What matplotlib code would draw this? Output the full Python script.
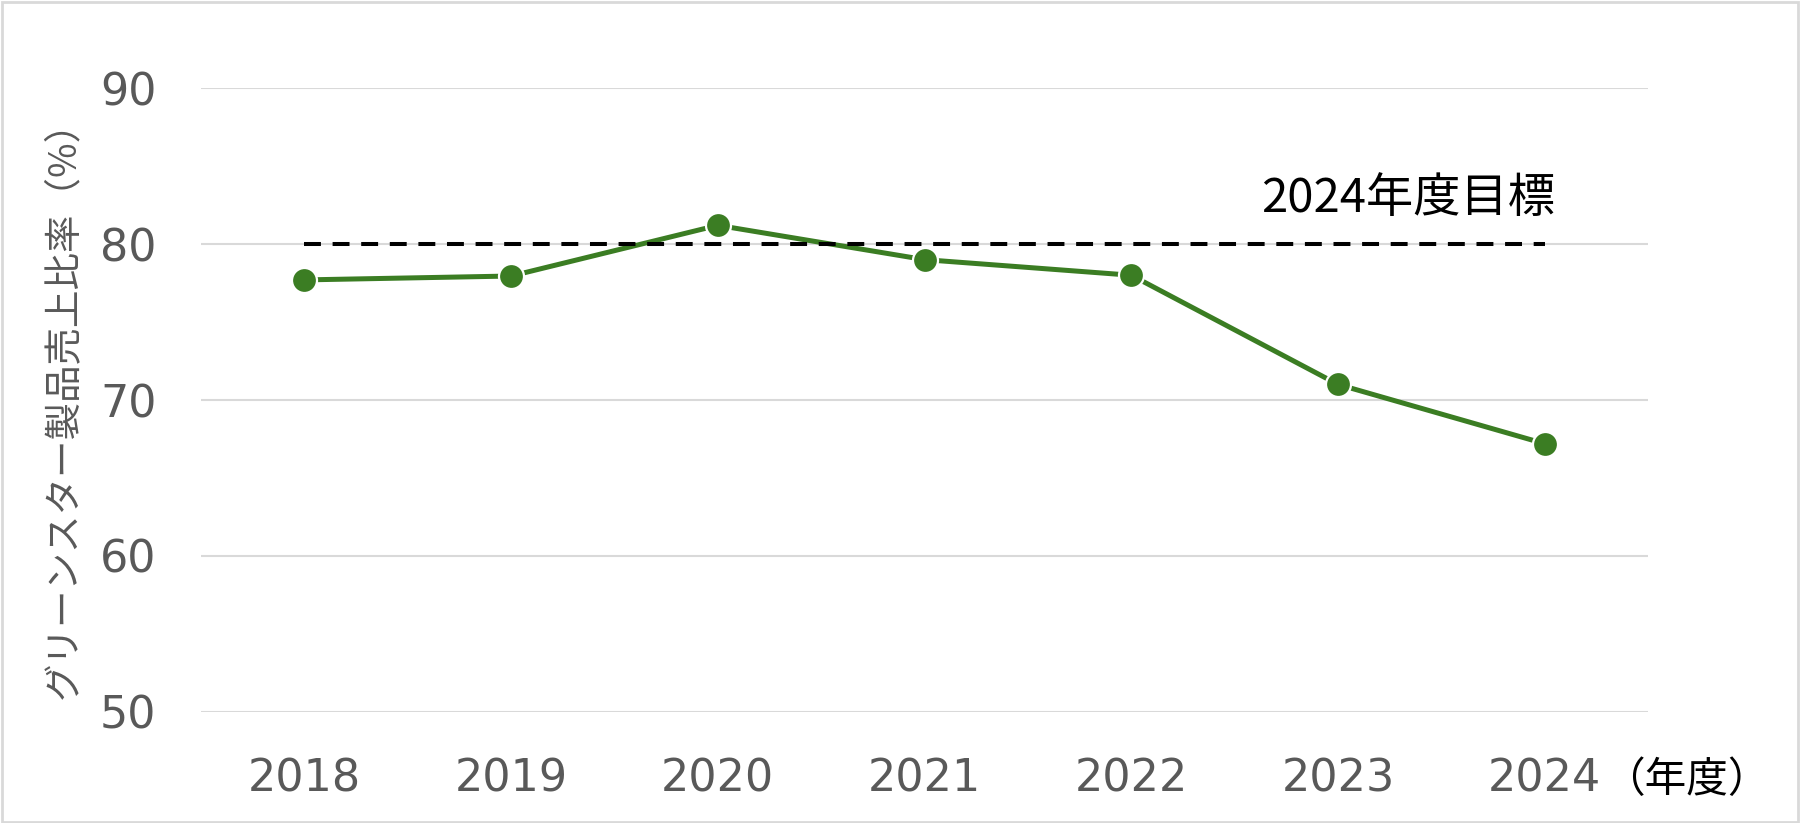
import matplotlib
matplotlib.use("Agg")
import matplotlib.pyplot as plt
from matplotlib.patches import Rectangle

plt.rcParams['font.family'] = ['DejaVu Sans', 'Noto Sans CJK JP']

years = ["2018", "2019", "2020", "2021", "2022", "2023", "2024"]
ratio = [77.7, 77.95, 81.2, 79.0, 78.0, 71.0, 67.2]
target = 80
target_label = "2024年度目標"
ylabel = "グリーンスター製品売上比率（%）"
xunit = "（年度）"
yticks = [50, 60, 70, 80, 90]

CJK = ['Noto Sans CJK JP', 'DejaVu Sans']

fig = plt.figure(figsize=(18, 8.23), dpi=100)
ax = fig.add_axes([0.1117, 0.1349, 0.8039, 0.7581])

x = list(range(len(years)))
ax.plot(x, [target] * len(x), color="black", lw=2.9, ls=(0, (4.2, 2.9)),
        dash_capstyle="butt", zorder=4)
ax.plot(x, ratio, color="#3b7d23", lw=3.6, marker="o", markersize=18,
        markerfacecolor="#3b7d23", markeredgecolor="white", markeredgewidth=1.6,
        zorder=3)

ax.set_xlim(-0.5, len(years) - 0.5)
ax.set_ylim(50, 90)
ax.set_yticks(yticks)
ax.set_xticks(x)
ax.set_xticklabels(years)
ax.grid(axis="y", color="#d9d9d9", lw=1.5)
ax.set_axisbelow(True)
for s in ax.spines.values():
    s.set_visible(False)
ax.tick_params(axis="both", length=0, labelsize=32, colors="#595959")
ax.tick_params(axis="y", pad=32)
ax.tick_params(axis="x", pad=33)

ax.set_ylabel(ylabel, family=CJK, fontsize=27, color="#595959", labelpad=12)

ax.text(5.34, 82.9, target_label, family=CJK,
        fontsize=34, color="black", ha="center", va="center")

fig.text(1603 / 1800, 1 - 780 / 823, xunit, family=CJK,
         fontsize=30, color="black", ha="left", va="center")

fig.patches.append(Rectangle((0.001, 0.001), 0.998, 0.997, transform=fig.transFigure,
                             fill=False, edgecolor="#d9d9d9", lw=2))

fig.savefig("out.png", dpi=100, facecolor="white")
